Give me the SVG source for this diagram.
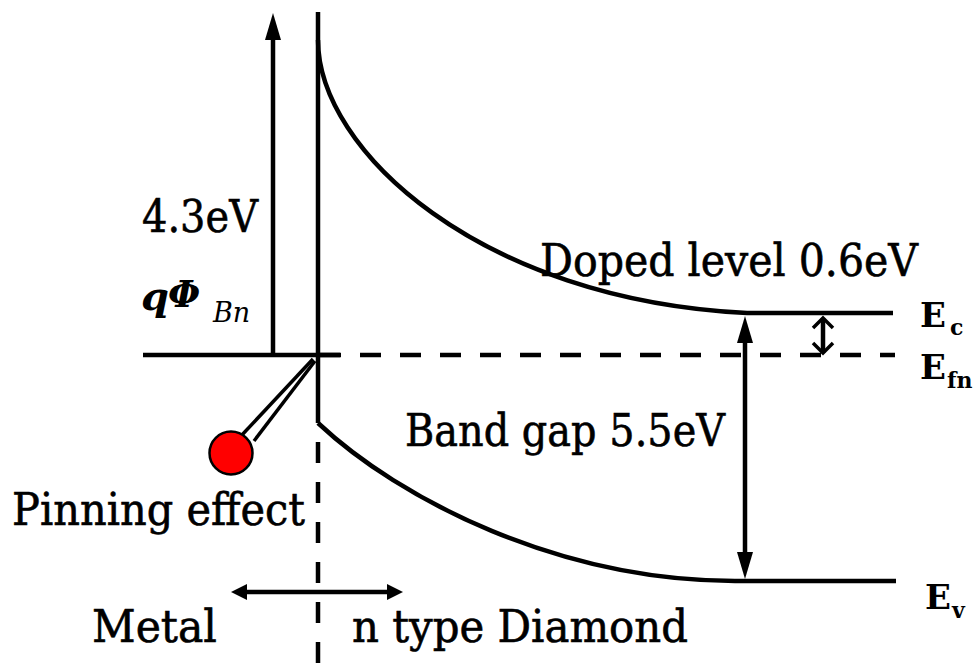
<svg xmlns="http://www.w3.org/2000/svg" width="980" height="664" viewBox="0 0 980 664">
<style>
.ln{stroke:#000;stroke-width:4.5;fill:none}
.dash{stroke:#000;stroke-width:4.5;fill:none;stroke-dasharray:21 19}
.t{font-family:"DejaVu Serif","Liberation Serif",serif;font-size:44px;fill:#000;stroke:#000;stroke-width:0.6}
.e{font-family:"DejaVu Serif","Liberation Serif",serif;font-weight:bold;fill:#000}
</style>
<defs>
<marker id="tri" markerUnits="userSpaceOnUse" markerWidth="30" markerHeight="18" refX="7" refY="8" orient="auto-start-reverse" overflow="visible">
<path d="M0,0 L27,8 L0,16 Z" fill="#000"/>
</marker>
<marker id="tri2" markerUnits="userSpaceOnUse" markerWidth="18" markerHeight="18" refX="4" refY="8" orient="auto-start-reverse" overflow="visible">
<path d="M0,0 L16,8 L0,16 Z" fill="#000"/>
</marker>
<marker id="chev" markerUnits="userSpaceOnUse" markerWidth="14" markerHeight="24" refX="10" refY="10" orient="auto-start-reverse" overflow="visible">
<path d="M0,0 L10,10 L0,20" fill="none" stroke="#000" stroke-width="3.5"/>
</marker>
</defs>

<g id="bands">
<line class="ln" x1="318" y1="12" x2="318" y2="423"/>
<line class="dash" x1="318" y1="442" x2="318" y2="664"/>
<line class="ln" x1="143" y1="355" x2="340" y2="355"/>
<line class="dash" x1="320" y1="355" x2="895" y2="355"/>
<path class="ln" d="M318,40 C318,150 480,300 747,313 L893,313"/>
<path class="ln" d="M318,423 C400,500 560,581 735,581 L896,581"/>
</g>

<g id="connectors">
<line class="ln" x1="273" y1="355" x2="273" y2="33" marker-end="url(#tri)"/>
<line class="ln" x1="745" y1="336" x2="745" y2="559" marker-start="url(#tri)" marker-end="url(#tri)"/>
<line class="ln" x1="823" y1="318" x2="823" y2="353" stroke-width="3.5" marker-start="url(#chev)" marker-end="url(#chev)"/>
<line class="ln" x1="243" y1="592" x2="391" y2="592" marker-start="url(#tri2)" marker-end="url(#tri2)"/>
</g>

<g id="pinning">
<line x1="313" y1="359" x2="241" y2="436" stroke="#000" stroke-width="3.5"/>
<line x1="315" y1="361" x2="254" y2="441" stroke="#000" stroke-width="3.5"/>
<circle cx="231" cy="453" r="21.5" fill="#ff0000" stroke="#000" stroke-width="2.5"/>
</g>

<g id="labels">
<text class="t" x="142" y="232" textLength="116" lengthAdjust="spacingAndGlyphs">4.3eV</text>
<text x="141" y="310" font-family="DejaVu Serif, Liberation Serif, serif" font-size="40" font-style="italic" font-weight="bold">q</text>
<text x="168" y="307" font-family="DejaVu Serif, Liberation Serif, serif" font-size="37" font-style="italic" font-weight="bold">Φ</text>
<text x="213" y="322" font-family="DejaVu Serif, Liberation Serif, serif" font-size="27" font-style="italic">Bn</text>
<text class="t" x="540" y="276" textLength="378" lengthAdjust="spacingAndGlyphs">Doped level 0.6eV</text>
<text class="t" x="405" y="446" textLength="320" lengthAdjust="spacingAndGlyphs">Band gap 5.5eV</text>
<text class="t" x="12" y="525" textLength="293" lengthAdjust="spacingAndGlyphs">Pinning effect</text>
<text class="t" x="92" y="642" textLength="125" lengthAdjust="spacingAndGlyphs">Metal</text>
<text class="t" x="352" y="642" textLength="336" lengthAdjust="spacingAndGlyphs">n type Diamond</text>
<text class="e" x="920" y="327" font-size="34">E</text>
<text class="e" x="950" y="335" font-size="22">c</text>
<text class="e" x="920" y="379" font-size="34">E</text>
<text class="e" x="947" y="388" font-size="22">fn</text>
<text class="e" x="925" y="609" font-size="34">E</text>
<text class="e" x="952" y="618" font-size="22">v</text>
</g>
</svg>
